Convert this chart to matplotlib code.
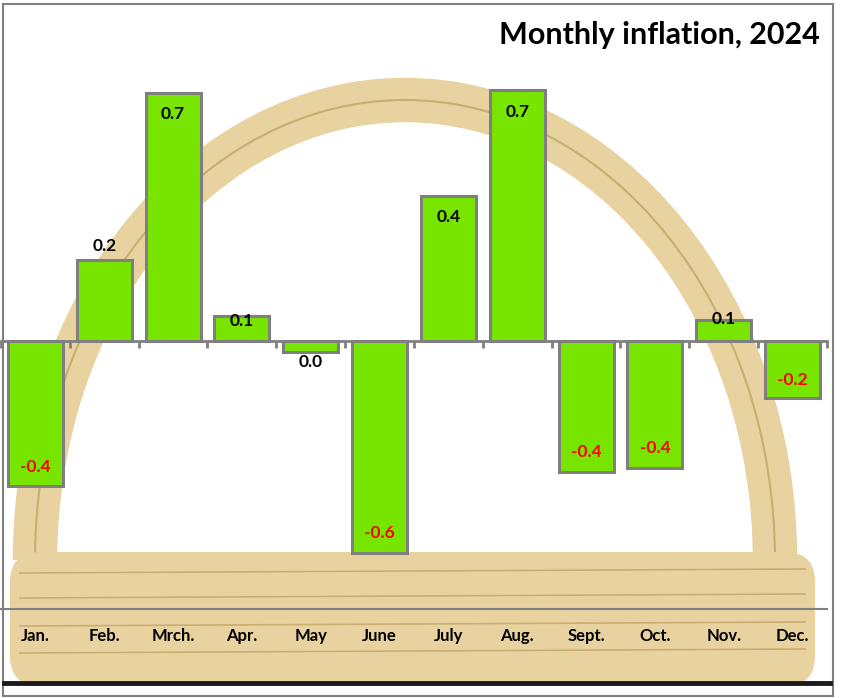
import matplotlib
matplotlib.use("Agg")
import matplotlib.pyplot as plt
from matplotlib.patches import Arc, Rectangle, FancyBboxPatch
import numpy as np

plt.rcParams['font.family'] = ['Lato', 'DejaVu Sans']

# data
months = ["Jan.", "Feb.", "Mrch.", "Apr.", "May", "June",
          "July", "Aug.", "Sept.", "Oct.", "Nov.", "Dec."]
inflation = [-0.41, 0.23, 0.70, 0.07, -0.03, -0.60,
             0.41, 0.71, -0.37, -0.36, 0.06, -0.16]

# label placement relative to the bar end (pixels, + is up)
label_dy = [19, 14, -21, -5, -10, 20, -21, -22, 20, 20, 1, 18]

W, H = 848, 698
fig = plt.figure(figsize=(W / 100, H / 100), dpi=100)

# decorative basket behind the chart (pixel coordinates, y up)
bg = fig.add_axes([0, 0, 1, 1], zorder=0)
bg.set_xlim(0, W)
bg.set_ylim(0, H)
bg.axis('off')
tan = '#E8D3A0'
dark = '#C9AE72'
bg.add_patch(Arc((405, 138), 740, 920, theta1=0, theta2=180,
                 lw=32, color=tan))
bg.add_patch(Arc((405, 138), 740, 920, theta1=0, theta2=180,
                 lw=1.5, color=dark))
bg.add_patch(FancyBboxPatch((10, 12), 805, 134,
                            boxstyle="round,pad=0,rounding_size=30",
                            fc=tan, ec='none'))
for yy in [125, 100, 72, 45]:
    bg.plot([20, 805], [yy, yy + 4], color=dark, lw=1.2)

# main chart
ax = fig.add_axes([1 / W, (H - 609) / H, 826 / W, 605 / H], zorder=1)
ax.patch.set_alpha(0)
x = np.arange(len(months))
bars = ax.bar(x, inflation, width=0.8, color='#77E500',
              edgecolor='#7F7F7F', linewidth=2.2, zorder=3)
ax.set_xlim(-0.5, len(months) - 0.5)
ax.set_ylim(-0.757, 0.952)

for b, v, dy in zip(bars, inflation, label_dy):
    txt = f"{v:.1f}".replace("-0.0", "0.0")
    col = '#FF0000' if round(v, 1) < 0 else 'black'
    ax.annotate(txt, (b.get_x() + b.get_width() / 2, v),
                xytext=(0, dy), textcoords='offset pixels',
                ha='center', va='center', fontsize=12.5,
                fontweight='bold', color=col, zorder=4)

# zero axis with ticks between categories
for s in ['top', 'right', 'left']:
    ax.spines[s].set_visible(False)
ax.spines['bottom'].set_position(('data', 0))
ax.spines['bottom'].set_color('#7F7F7F')
ax.spines['bottom'].set_linewidth(2)
ax.spines['bottom'].set_zorder(5)
ax.set_xticks(np.arange(len(months) + 1) - 0.5)
ax.set_xticklabels([])
ax.tick_params(axis='x', length=5, width=2, color='#7F7F7F', direction='out')
ax.set_yticks([])

# category axis at the bottom
sec = ax.secondary_xaxis(0.0)
sec.set_xticks(x)
sec.set_xticklabels(months, fontsize=12, fontweight='bold')
sec.tick_params(length=0, pad=14)
sec.spines['bottom'].set_color('#7F7F7F')
sec.spines['bottom'].set_linewidth(1.5)

fig.text(820 / W, (H - 35) / H, "Monthly inflation, 2024", ha='right',
         va='center', fontsize=22, fontweight='bold')

# thick black line and outer frame
fig.add_artist(plt.Line2D([4 / W, 830 / W], [(H - 683) / H] * 2,
                          color='#1A1A1A', lw=3.5))
fig.add_artist(Rectangle((3 / W, 2 / H), 830 / W, 692 / H, fill=False,
                         ec='#7F7F7F', lw=1.5, transform=fig.transFigure))

fig.savefig("out.png", dpi=100)
